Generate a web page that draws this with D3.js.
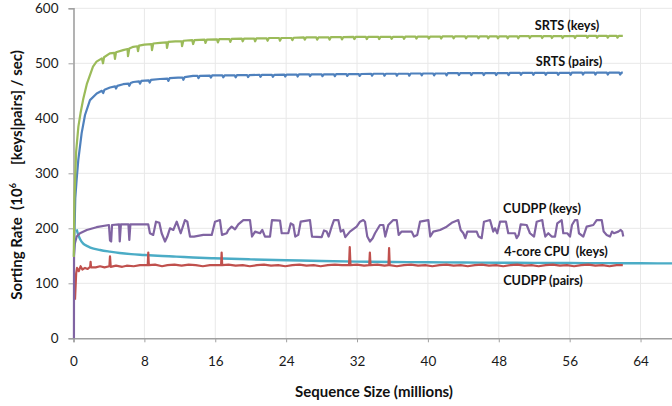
<!DOCTYPE html>
<html><head><meta charset="utf-8">
<script src="https://cdn.jsdelivr.net/npm/d3@7"></script>
<style>
html,body{margin:0;padding:0;background:#fff;}
svg{display:block;}
text{font-family:Lato,"Open Sans",sans-serif;}
</style></head>
<body>
<svg id="chart" width="672" height="406"></svg>
<script>
// ---- data (x in millions, y in 10^6 per sec) ----
const xTicks = [0, 8, 16, 24, 32, 40, 48, 56, 64];
const yTicks = [0, 100, 200, 300, 400, 500, 600];

const srtsKeys = [[0.03,148],[0.1,250],[0.3,340],[0.55,385],[0.8,410],[1.1,435],[1.5,462],[2.2,494],[2.6,503],[3.2,509],[3.33,500],[3.45,511],[4.1,518],[4.6,519],[4.68,508],[4.8,520],[5.6,524],[6.1,526],[6.15,513],[6.3,527],[6.75,530],[7.2,531],[7.28,522],[7.4,532],[8.0,534],[8.8,535],[8.86,524],[9.0,536],[9.76,537],[10.5,538],[10.55,528],[10.7,539],[11.5,540],[12.2,540],[12.25,531],[12.4,541],[13.4,542],[13.5,535],[13.65,542],[14.8,543],[14.9,537],[15.05,543],[16.2,543.5],[16.3,538],[16.45,544],[17.6,544],[17.7,539],[17.85,544.5],[19.0,545],[19.1,540],[19.25,545],[20.4,545],[20.5,540],[20.65,545.5],[21.8,545.5],[21.9,541],[22.05,546],[23.2,546],[23.3,541],[23.45,546],[24.6,546],[24.7,542],[24.85,546.5],[26.0,547],[26.1,543],[26.25,547],[27.4,547],[27.5,543],[27.65,547],[28.8,547],[28.9,543],[29.05,547.5],[30.2,547.5],[30.3,543.5],[30.45,547.5],[31.6,548],[31.7,544],[31.85,548],[33.0,548],[33.1,544],[33.25,548],[34.4,548],[34.5,544],[34.65,548],[35.8,548],[35.9,544.5],[36.05,548],[37.2,548],[37.3,544.5],[37.45,548.5],[38.6,548.5],[38.7,545],[38.85,548.5],[40.0,548.5],[40.1,545],[40.25,548.5],[41.4,548.5],[41.5,545],[41.65,549],[42.8,549],[42.9,545.5],[43.05,549],[44.2,549],[44.3,545.5],[44.45,549],[45.6,549],[45.7,545.5],[45.85,549],[46.7,549],[46.8,545.5],[46.95,549],[47.8,549],[47.9,545.5],[48.05,549],[48.9,549],[49.0,545.5],[49.15,549],[50.1,549],[50.2,545.5],[50.35,549.5],[51.4,549.5],[51.5,546],[51.65,549.5],[52.8,549.5],[52.9,546],[53.05,549.5],[53.9,549.5],[54.0,546],[54.15,549.5],[55.1,549.5],[55.2,546],[55.35,549.5],[56.5,549.5],[56.6,546],[56.75,550],[57.9,550],[58.0,546.5],[58.15,550],[59.0,550],[59.1,546.5],[59.25,550],[60.2,550],[60.3,546.5],[60.45,550],[61.3,550],[61.4,546.5],[61.55,550],[62.0,550]];

const srtsPairs = [[0.05,150],[0.2,255],[0.36,290],[0.54,324],[0.92,373],[1.3,406],[1.86,433],[2.62,445],[3.2,450],[3.35,446],[3.5,452],[4.12,456],[4.7,458],[4.8,454],[4.95,459],[5.6,462],[6.2,463],[6.3,459],[6.45,464],[6.75,466],[7.4,467],[7.5,463],[7.65,468],[8.5,469],[8.6,465],[8.75,470],[9.76,471.5],[10.6,472],[10.7,468],[10.85,473],[11.8,474],[12.3,474],[12.4,470],[12.55,475],[13.5,477],[14.0,477],[14.1,473],[14.25,477],[15.4,477.5],[15.5,474],[15.65,478],[16.8,478],[16.9,474.5],[17.05,478],[18.2,478],[18.3,474.5],[18.45,478.5],[19.6,478.5],[19.7,475],[19.85,478.5],[21.0,479],[21.1,475.5],[21.25,479],[22.4,479],[22.5,475.5],[22.65,479],[23.8,479.5],[23.9,476],[24.05,479.5],[25.2,479.5],[25.3,476],[25.45,480],[26.6,480],[26.7,476.5],[26.85,480],[28.0,480],[28.1,476.5],[28.25,480],[29.4,480],[29.5,476.5],[29.65,480.5],[30.8,480.5],[30.9,477],[31.05,480.5],[32.2,480.5],[32.3,477],[32.45,480.5],[33.6,481],[33.7,477.5],[33.85,481],[35.0,481],[35.1,477.5],[35.25,481],[36.4,481],[36.5,477.5],[36.65,481],[37.8,481],[37.9,477.5],[38.05,481.5],[39.2,481.5],[39.3,478],[39.45,481.5],[40.6,481.5],[40.7,478],[40.85,481.5],[42.0,481.5],[42.1,478],[42.25,482],[43.4,482],[43.5,478.5],[43.65,482],[44.8,482],[44.9,478.5],[45.05,482],[46.2,482],[46.3,478.5],[46.45,482],[47.6,482],[47.7,478.5],[47.85,482],[49.0,482],[49.1,478.5],[49.25,482.5],[50.4,482.5],[50.5,479],[50.65,482.5],[51.8,482.5],[51.9,479],[52.05,482.5],[53.2,482.5],[53.3,479],[53.45,482.5],[54.6,482.5],[54.7,479],[54.85,482.5],[56.0,482.5],[56.1,479],[56.25,483],[57.4,483],[57.5,479.5],[57.65,483],[58.8,483],[58.9,479.5],[59.05,483],[60.2,483],[60.3,479.5],[60.45,483],[61.6,483],[61.7,479.5],[61.85,483],[62.0,483]];

const cudppKeys = [[0.05,0],[0.06,150],[0.15,172],[0.36,185],[0.73,191],[1.5,197],[2.6,202],[4.0,206],[4.12,178],[4.25,176],[4.35,206],[5.15,207],[5.22,176],[5.35,207],[6.2,207],[6.3,179],[6.42,207],[8.44,207],[8.63,191],[9.0,188],[9.31,212],[9.69,210],[9.95,191],[10.33,176],[10.59,185],[10.89,200],[11.27,197],[11.65,212],[12.1,191],[12.58,215],[12.85,212],[13.15,185],[13.6,185],[14.65,188],[15.6,188],[15.97,212],[16.53,215],[16.76,188],[17.29,191],[17.47,197],[17.85,203],[18.23,198],[18.6,207],[19.17,215],[19.92,215],[20.15,185],[20.49,194],[21.05,191],[21.31,197],[21.61,185],[22.18,185],[22.4,215],[23.31,214],[23.5,191],[24.24,191],[24.52,209],[24.81,206],[25.03,185],[25.37,188],[25.64,212],[26.69,215],[26.92,185],[28.01,184],[28.27,196],[28.58,194],[28.8,185],[29.14,203],[29.4,215],[29.89,215],[30.16,194],[30.45,197],[30.68,184],[31.2,194],[31.96,203],[32.34,212],[32.71,215],[32.9,212],[33.16,185],[33.46,176],[33.77,182],[34.03,191],[34.59,206],[34.97,206],[35.19,185],[35.53,206],[36.09,215],[36.48,215],[36.7,188],[37.04,194],[38.17,194],[38.43,185],[38.8,188],[39.11,212],[40.05,215],[40.27,185],[40.61,194],[41.37,197],[42.12,203],[42.69,210],[43.43,215],[43.7,197],[44.0,191],[44.22,182],[44.45,194],[45.51,194],[45.73,185],[46.07,182],[46.33,212],[47.01,215],[47.38,194],[47.57,200],[47.83,191],[48.14,212],[48.81,212],[49.07,191],[49.83,191],[50.02,182],[50.25,188],[50.47,207],[51.15,206],[51.52,191],[51.98,185],[52.28,212],[52.91,215],[53.02,203],[53.25,185],[53.59,191],[53.97,185],[54.35,185],[54.6,209],[55.1,215],[55.28,191],[55.73,191],[56.04,185],[56.26,206],[56.6,215],[56.86,215],[57.05,191],[57.54,185],[57.92,203],[58.67,206],[59.05,215],[59.62,215],[59.84,194],[60.18,188],[60.55,185],[60.78,194],[61.0,191],[61.49,194],[61.76,197],[61.94,194],[62.05,185]];

const cpuKeys = [[0.35,198],[0.5,190],[0.75,180],[1.1,172],[1.5,168],[1.9,165],[3.0,160.5],[4.1,157.5],[5.2,155],[6.5,153],[8.0,151.5],[9.5,150],[11.6,148.5],[13.5,147],[15.8,145.5],[20,143.5],[24,142],[28,140.5],[32,139.5],[36,138.8],[40,138.2],[44,137.8],[48,137.4],[52,137.1],[56,136.8],[60,136.6],[64,136.4],[68,136.2]];

const cudppPairs = [[0.17,70],[0.3,118],[0.4,128],[0.6,122],[0.8,131],[1.0,125],[1.3,128],[1.6,126],[1.88,130],[1.93,139],[1.98,129],[2.5,129],[3.0,131],[3.5,129],[4.05,131],[4.12,149],[4.2,130],[4.8,132],[5.5,130],[6.0,132],[6.8,131],[7.5,133],[8.38,133],[8.44,156],[8.5,133],[9.2,134],[10.0,131],[10.6,133],[11.4,134],[12.2,132],[13.0,134],[13.8,133],[14.6,131],[15.4,133],[16.2,133],[16.66,133],[16.72,156],[16.78,133],[17.5,134],[18.3,132],[19.1,133],[19.9,131],[20.7,133],[21.5,134],[22.3,132],[23.1,133],[23.9,131],[24.7,133],[25.5,134],[26.3,132],[27.1,133],[27.9,131],[28.7,133],[29.5,134],[30.3,133],[31.1,133],[31.18,166],[31.26,133],[32.0,134],[32.8,132],[33.38,133],[33.45,156],[33.52,133],[34.3,134],[35.1,132],[35.55,133],[35.62,164],[35.69,133],[36.5,131],[37.3,133],[38.1,134],[38.9,132],[39.7,133],[40.5,131],[41.3,133],[42.1,134],[42.9,132],[43.7,133],[44.5,131],[45.3,133],[46.1,134],[46.9,132],[47.7,133],[48.5,131],[49.3,133],[50.1,134],[50.9,132],[51.7,133],[52.5,131],[53.3,133],[54.1,134],[54.9,132],[55.7,133],[56.5,131],[57.3,133],[58.1,134],[58.9,132],[59.7,133],[60.5,131],[61.3,133],[62.0,133]];

const seriesLabels = ["SRTS (keys)", "SRTS (pairs)", "CUDPP (keys)", "4-core CPU  (keys)", "CUDPP (pairs)"];

// ---- drawing ----
const svg = d3.select("#chart");
const x = d3.scaleLinear().domain([0, 72]).range([73.5, 73.5 + 72 * 8.86]);
const y = d3.scaleLinear().domain([0, 600]).range([338.3, 8.3]);

// gridlines
svg.append("g").selectAll("line.h").data(yTicks.filter(d => d > 0)).join("line")
  .attr("x1", x(0)).attr("x2", 672).attr("y1", d => y(d)).attr("y2", d => y(d))
  .attr("stroke", "#e8e8e8").attr("stroke-width", 1);
svg.append("g").selectAll("line.v").data(xTicks.filter(d => d > 0)).join("line")
  .attr("x1", d => x(d)).attr("x2", d => x(d)).attr("y1", y(600)).attr("y2", y(0))
  .attr("stroke", "#e8e8e8").attr("stroke-width", 1);

// axes
const xAxis = svg.append("g").attr("transform", `translate(0,${y(0)})`)
  .call(d3.axisBottom(x).tickValues(xTicks).tickSize(4).tickPadding(14));
const yAxis = svg.append("g").attr("transform", `translate(${x(0)},0)`)
  .call(d3.axisLeft(y).tickValues(yTicks).tickSize(5).tickPadding(10));
[xAxis, yAxis].forEach(g => {
  g.select(".domain").attr("stroke", "#a0a0a0").attr("stroke-width", 1.6);
  g.selectAll(".tick line").attr("stroke", "#a0a0a0").attr("stroke-width", 1);
  g.selectAll(".tick text").attr("font-family", "Lato").attr("font-size", 13.5).attr("fill", "#1a1a1a");
});

// lines
const line = d3.line().x(d => x(d[0])).y(d => y(d[1]));
const smooth = d3.line().x(d => x(d[0])).y(d => y(d[1])).curve(d3.curveMonotoneX);
const plot = svg.append("g");
plot.append("path").datum(cpuKeys).attr("d", smooth).attr("fill", "none").attr("stroke", "#4bacc6").attr("stroke-width", 2.4);
plot.append("path").datum(cudppPairs).attr("d", line).attr("fill", "none").attr("stroke", "#c0504d").attr("stroke-width", 2.2).attr("stroke-linejoin", "round");
plot.append("path").datum(cudppKeys).attr("d", line).attr("fill", "none").attr("stroke", "#8064a2").attr("stroke-width", 2.2).attr("stroke-linejoin", "round");
plot.append("path").datum(srtsPairs).attr("d", line).attr("fill", "none").attr("stroke", "#4f81bd").attr("stroke-width", 2.2).attr("stroke-linejoin", "round");
plot.append("path").datum(srtsKeys).attr("d", line).attr("fill", "none").attr("stroke", "#9bbb59").attr("stroke-width", 2.2).attr("stroke-linejoin", "round");

// series labels
const labelPos = [[567, 30], [569, 66], [542, 213], [556, 256], [543, 285]];
svg.append("g").selectAll("text").data(seriesLabels).join("text")
  .attr("x", (d, i) => labelPos[i][0]).attr("y", (d, i) => labelPos[i][1])
  .attr("text-anchor", "middle").attr("font-weight", "bold").attr("font-size", 12.7)
  .attr("fill", "#111").style("white-space", "pre").text(d => d);

// axis titles
svg.append("text").attr("x", 374).attr("y", 397).attr("text-anchor", "middle")
  .attr("font-weight", "bold").attr("font-size", 15).attr("fill", "#111")
  .text("Sequence Size (millions)");
const yt = svg.append("text").attr("transform", "translate(22,175) rotate(-90)")
  .attr("text-anchor", "middle").attr("font-weight", "bold").attr("font-size", 15)
  .attr("fill", "#111").style("white-space", "pre");
yt.append("tspan").text("Sorting Rate  (10");
yt.append("tspan").attr("dy", -6).attr("font-size", 9).text("6");
yt.append("tspan").attr("dy", 6).text("     [keys|pairs] / sec)");
</script>
</body></html>
